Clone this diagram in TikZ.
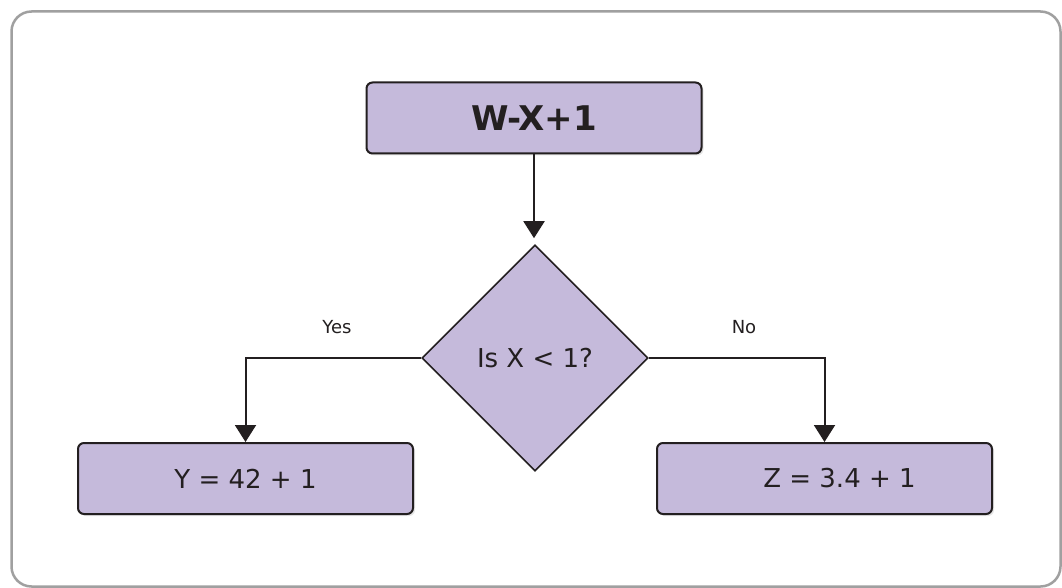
\documentclass[tikz,border=0pt]{standalone}
\usepackage{fontspec}
\setmainfont{DejaVu Sans}
\usetikzlibrary{shapes.geometric,arrows.meta,shadows}
\definecolor{boxfill}{RGB}{197,186,219}
\definecolor{ink}{RGB}{35,31,32}
\definecolor{framegray}{RGB}{160,160,160}
\tikzset{
  box/.style={draw=ink, fill=boxfill, line width=2pt, rounded corners=6pt,
    minimum width=335pt, minimum height=71pt, inner sep=0pt, text=ink,
    font=\fontsize{26}{30}\selectfont,
    drop shadow={shadow xshift=2pt, shadow yshift=-2pt, opacity=0.2}},
  decision/.style={draw=ink, fill=boxfill, line width=1.6pt, diamond, aspect=1,
    minimum width=226pt, minimum height=226pt, inner sep=0pt, text=ink,
    font=\fontsize{26}{30}\selectfont},
  flow/.style={draw=ink, line width=2pt, -{Triangle[length=17pt,width=21pt]}},
  branchlabel/.style={text=ink, font=\fontsize{18}{22}\selectfont, inner sep=0pt}
}
\begin{document}
\begin{tikzpicture}[x=1pt, y=-1pt]
  \useasboundingbox (0,0) rectangle (1062,588);
  % outer frame
  \draw[framegray, line width=2.5pt, rounded corners=20pt] (11.5,11.5) rectangle (1060.5,586.5);

  % flowchart nodes
  \node[box, font=\fontsize{34}{40}\selectfont\bfseries] (start) at (534,118) {W-X+1};
  \node[decision] (test) at (535,358) {Is X < 1?};
  \node[box] (yes) at (245.5,478.5) {Y = 42 + 1};
  \node[box] (no) at (824.5,478.5) {\hspace*{30pt}Z = 3.4 + 1};

  % connectors
  \draw[flow, shorten >=6pt] (start.south) -- (start.south |- test.north);
  \draw[flow] (test.west) -| (yes.north);
  \draw[flow] (test.east) -| (no.north);

  % branch labels
  \node[branchlabel] (yeslabel) at (337,327) {Yes};
  \node[branchlabel] (nolabel) at (744,327) {No};
\end{tikzpicture}
\end{document}
